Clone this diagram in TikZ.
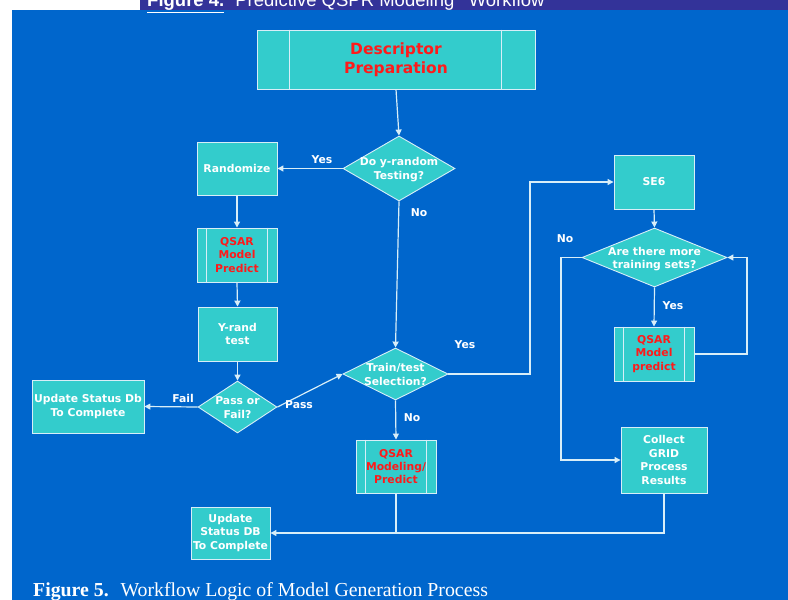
\documentclass[tikz,border=0pt]{standalone}
\usepackage{fontspec}
\setmainfont{Liberation Serif}
\newfontfamily\flowfont{DejaVu Sans}
\newfontfamily\titlefont{Liberation Sans}
\usetikzlibrary{shapes.geometric,arrows.meta}
\definecolor{pagebg}{HTML}{0066CC}
\definecolor{band}{HTML}{333399}
\definecolor{boxfill}{HTML}{33CCCC}
\definecolor{edge}{HTML}{D8EEF8}
\definecolor{stepred}{HTML}{FF1A1A}
\begin{document}
\begin{tikzpicture}[x=1pt,y=-1pt,
  flowtext/.style={font=\flowfont\bfseries\fontsize{10.8}{13.4}\selectfont},
  box/.style={draw=edge, line width=0.9pt, fill=boxfill, inner sep=0pt,
    flowtext, text=white, align=center},
  redbox/.style={box, text=stepred},
  decision/.style={diamond, draw=edge, line width=0.9pt, fill=boxfill, inner sep=0pt},
  dtext/.style={flowtext, text=white, align=center, inner sep=0pt},
  lbl/.style={flowtext, text=white, inner sep=0pt},
  flow/.style={draw=edge, line width=1.2pt, -{Triangle[length=6pt,width=6pt]}},
  link/.style={draw=edge, line width=1.2pt},
  divider/.style={draw=edge, line width=0.9pt}]

\useasboundingbox (0,0) rectangle (788,600);
\fill[white] (0,0) rectangle (788,600);
\fill[band] (140,0) rectangle (788,10);
\fill[pagebg] (12,10) rectangle (788,600);

% heading strip and caption
\node[anchor=base west, inner sep=0pt, text=white,
  font=\titlefont\fontsize{18.5}{20}\selectfont] (head) at (147,6.5)
  {\underline{\bfseries Figure 4.}\hspace{0.6em}Predictive QSPR Modeling\hspace{0.5em} Workflow};
\node[anchor=base west, inner sep=0pt, text=white,
  font=\fontsize{19.8}{22}\selectfont] (caption) at (33,596)
  {\underline{\bfseries Figure 5.}\hspace{0.6em}Workflow Logic of Model Generation Process};

% boxes
\node[box, text=stepred, minimum width=278pt, minimum height=59pt,
  font=\flowfont\bfseries\fontsize{15.5}{19}\selectfont] (desc) at (396,59.5)
  {Descriptor\\Preparation};
\node[box, minimum width=80pt, minimum height=53pt] (rand) at (237,168.5) {Randomize};
\node[redbox, minimum width=80pt, minimum height=54pt] (qmp) at (237,255) {QSAR\\Model\\Predict};
\node[box, minimum width=79pt, minimum height=54pt] (yrand) at (237.5,334) {Y-rand\\test};
\node[box, minimum width=112pt, minimum height=53pt] (upd1) at (88,406.5) {Update Status Db\\To Complete};
\node[redbox, minimum width=80pt, minimum height=53pt] (qmod) at (396,466.5) {QSAR\\Modeling/\\Predict};
\node[box, minimum width=79pt, minimum height=52pt] (upd2) at (230.5,533) {Update\\Status DB\\To Complete};
\node[box, minimum width=80pt, minimum height=54pt] (se6) at (654,182) {SE6};
\node[redbox, minimum width=80pt, minimum height=54pt] (qmp2) at (654,354) {QSAR\\Model\\predict};
\node[box, minimum width=86pt, minimum height=66pt] (collect) at (664,460) {Collect\\GRID\\Process\\Results};

% decisions
\node[decision, minimum width=112pt, minimum height=65pt] (dyr) at (399,168.5) {};
\node[dtext] (dyrt) at (399,169.5) {Do y-random\\Testing?};
\node[decision, minimum width=79pt, minimum height=52pt] (pf) at (237.5,407) {};
\node[dtext] (pft) at (237.5,407.5) {Pass or\\Fail?};
\node[decision, minimum width=105pt, minimum height=52pt] (tt) at (395.5,374) {};
\node[dtext] (ttt) at (395.5,374.5) {Train/test\\Selection?};
\node[decision, minimum width=145pt, minimum height=59pt] (more) at (654.5,257.5) {};
\node[dtext] (moret) at (654.5,259) {Are there more\\training sets?};

% predefined-process side bars
\draw[divider] ([xshift=33pt]desc.north west) -- ([xshift=33pt]desc.south west);
\draw[divider] ([xshift=-34pt]desc.north east) -- ([xshift=-34pt]desc.south east);
\foreach \b in {qmp,qmod,qmp2}{
  \draw[divider] ([xshift=10pt]\b.north west) -- ([xshift=10pt]\b.south west);
  \draw[divider] ([xshift=-10pt]\b.north east) -- ([xshift=-10pt]\b.south east);
}

% bend points
\coordinate (bendA) at (530,182);
\coordinate (loopR) at (747,300);
\coordinate (loopL) at (561,300);

% connectors
\draw[flow] (desc.south) -- (dyr.north);
\draw[flow] (dyr.west) -- (rand.east);
\draw[flow] (rand.south) -- (qmp.north);
\draw[flow] (qmp.south) -- (yrand.north);
\draw[flow] (yrand.south) -- (pf.north);
\draw[flow] (pf.west) -- (upd1.east);
\draw[flow] (pf.east) -- (tt.west);
\draw[flow] (dyr.south) -- (tt.north);
\draw[flow] (tt.south) -- (qmod.north);
\draw[flow] (tt.east) -- (tt.east -| bendA) |- (se6.west);
\draw[flow] (se6.south) -- (more.north);
\draw[flow] (more.south) -- (qmp2.north);
\draw[flow] (qmp2.east) -- (qmp2.east -| loopR) |- (more.east);
\draw[flow] (more.west) -- (more.west -| loopL) |- (collect.west);
\draw[flow] (collect.south) |- (upd2.east);
\draw[link] (qmod.south) -- (qmod.south |- upd2.east);

% branch labels
\node[lbl] (yes1) at (322,160) {Yes};
\node[lbl] (no1) at (419,213) {No};
\node[lbl] (fail) at (183,398) {Fail};
\node[lbl] (pass) at (299,405) {Pass};
\node[lbl] (yes2) at (465,345) {Yes};
\node[lbl] (no2) at (412,418) {No};
\node[lbl] (no3) at (565,239) {No};
\node[lbl] (yes3) at (673,306) {Yes};
\end{tikzpicture}
\end{document}
